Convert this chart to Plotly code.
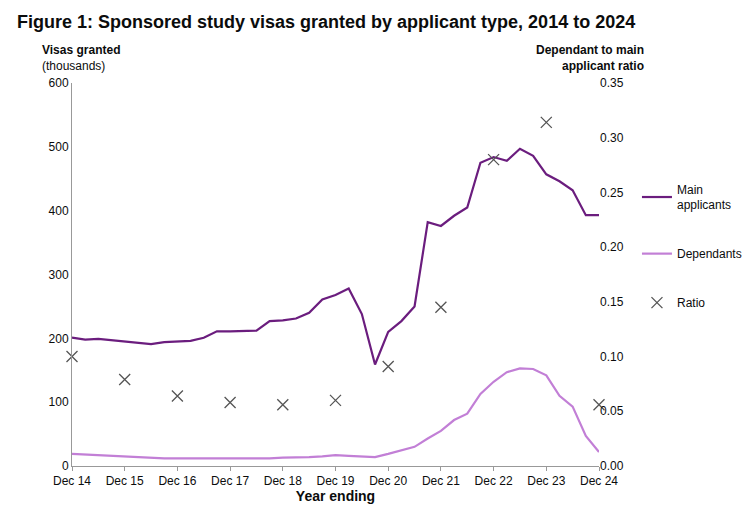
import plotly.graph_objects as go

quarters = ["Dec 14"] + [f"{m} {y}" for y in range(15, 25) for m in ["Mar", "Jun", "Sep", "Dec"]]
main_applicants = [201, 198, 199, 197, 195, 192, 191, 194, 195, 196, 201, 211, 211, 211, 212, 227,
                   228, 231, 240, 261, 268, 278, 238, 159, 210, 227, 250, 382, 376, 392, 405, 475,
                   484, 478, 497, 486, 457, 446, 432, 393, 393]
dependants = [19, 18, 17, 16, 14, 13, 13, 12, 12, 12, 12, 12, 11, 11, 12, 12, 13, 13, 14, 15,
              17, 16, 15, 14, 19, 24, 30, 43, 55, 72, 82, 113, 132, 147, 153, 152, 142, 110, 93, 47, 22]
ratio_labels = ["Dec 14", "Dec 15", "Dec 16", "Dec 17", "Dec 18", "Dec 19", "Dec 20", "Dec 21", "Dec 22", "Dec 23", "Dec 24"]
ratio = [0.100, 0.079, 0.064, 0.058, 0.056, 0.060, 0.091, 0.145, 0.280, 0.314, 0.056]

xi = list(range(len(quarters)))
rx = [quarters.index(l) for l in ratio_labels]

fig = go.Figure()
fig.add_trace(go.Scatter(x=xi, y=main_applicants, mode="lines", name="Main<br>applicants",
                         line=dict(color="#6b1d7e", width=2.2)))
fig.add_trace(go.Scatter(x=xi, y=dependants, mode="lines", name="Dependants",
                         line=dict(color="#c27fd6", width=2.2)))
fig.add_trace(go.Scatter(x=rx, y=ratio, mode="markers", name="Ratio", yaxis="y2", cliponaxis=False,
                         marker=dict(symbol="x-thin", size=11, line=dict(color="#555", width=1.3))))
for i, t in enumerate(fig.data):
    t.legendgroup = str(i)

fig.update_layout(
    width=750, height=512, paper_bgcolor="white", plot_bgcolor="white",
    margin=dict(l=64, r=158, t=75, b=54),
    font=dict(family="Liberation Sans, Arial", size=12, color="#0b0c0c"),
    title=dict(text="<b>Figure 1: Sponsored study visas granted by applicant type, 2014 to 2024</b>",
               x=0.012, xanchor="left", y=0.985, yanchor="top", font=dict(size=18), automargin=False),
    xaxis=dict(range=[0, 40], tickvals=rx, ticktext=ratio_labels, showgrid=False, automargin=False,
               showline=True, linecolor="#999", ticks="outside", ticklen=4, tickcolor="#999",
               title=dict(text="<b>Year ending</b>", standoff=2)),
    yaxis=dict(range=[0, 600], dtick=100, showgrid=False, showline=True, linecolor="#999",
               ticks="", zeroline=False, automargin=False),
    yaxis2=dict(range=[0, 0.35], dtick=0.05, tickformat=".2f", overlaying="y", side="right",
                showgrid=False, showline=False, zeroline=False, automargin=False),
    legend=dict(x=1.07, y=0.76, xanchor="left", yanchor="top", tracegroupgap=30,
                font=dict(size=12), bgcolor="rgba(0,0,0,0)"),
)
fig.add_annotation(text="<b>Visas granted</b><br>(thousands)", xref="paper", yref="paper",
                   x=-0.06, y=1.02, xanchor="left", yanchor="bottom", showarrow=False, align="left")
fig.add_annotation(text="<b>Dependant to main<br>applicant ratio</b>", xref="paper", yref="paper",
                   x=1.09, y=1.02, xanchor="right", yanchor="bottom", showarrow=False, align="right")
fig.write_html("out.html")
